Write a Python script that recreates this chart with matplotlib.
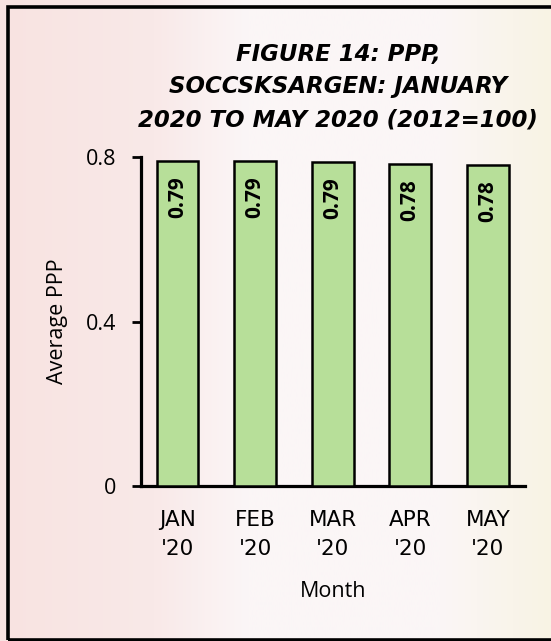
import matplotlib
matplotlib.use("Agg")
import matplotlib.pyplot as plt
import numpy as np
from matplotlib.colors import LinearSegmentedColormap
from matplotlib.patches import Rectangle

months = ["JAN\n'20", "FEB\n'20", "MAR\n'20", "APR\n'20", "MAY\n'20"]
ppp = [0.790, 0.790, 0.789, 0.782, 0.781]
labels = ["0.79", "0.79", "0.79", "0.78", "0.78"]
title = "FIGURE 14: PPP,\nSOCCSKSARGEN: JANUARY\n2020 TO MAY 2020 (2012=100)"

plt.rcParams['font.family'] = ['Open Sans', 'DejaVu Sans']

fig = plt.figure(figsize=(5.51, 6.41), dpi=100)

# soft background wash (pink left, white middle, cream right)
bg = fig.add_axes([0, 0, 1, 1], zorder=-10)
bg_cmap = LinearSegmentedColormap.from_list(
    'bg', [(0, '#f8e3e1'), (0.28, '#f9e9e8'), (0.45, '#fbf6f7'), (0.8, '#fbf6f6'), (1, '#f8f3e4')])
bg.imshow(np.linspace(0, 1, 256)[None, :], aspect='auto', cmap=bg_cmap, extent=[0, 1, 0, 1])
bg.axis('off')

# outer frame
fig.patches.append(Rectangle((8 / 551, 1.5 / 641), 1.2, 633 / 641, transform=fig.transFigure,
                             fill=False, edgecolor='black', linewidth=2.6))

ax = fig.add_axes([141 / 551, 1 - 486 / 641, 384 / 551, 329 / 641])
ax.set_facecolor('none')

x = range(len(months))
bars = ax.bar(x, ppp, width=0.54, color='#b7df99', edgecolor='black', linewidth=1.8, zorder=3)

for b, lab in zip(bars, labels):
    ax.annotate(lab, (b.get_x() + b.get_width() / 2, b.get_height()), xytext=(0, -11),
                textcoords='offset points', rotation=90, ha='center', va='top',
                fontsize=15, fontweight='bold', zorder=4)

ax.set_xlim(-0.47, 4.48)
ax.set_ylim(0, 0.8)
ax.set_yticks([0, 0.4, 0.8])
ax.set_yticklabels(['0', '0.4', '0.8'])
ax.set_xticks(list(x))
ax.set_xticklabels(months, fontsize=15.5, linespacing=1.6, family=['DejaVu Sans'])
ax.tick_params(axis='x', length=0, pad=17)
ax.tick_params(axis='y', length=6.5, width=2, labelsize=15.5, pad=11)

for s in ['top', 'right']:
    ax.spines[s].set_visible(False)
for s in ['left', 'bottom']:
    ax.spines[s].set_linewidth(2.3)

ax.set_ylabel('Average PPP', fontsize=15.5)
ax.yaxis.set_label_coords(-0.19, 0.5)
ax.set_xlabel('Month', fontsize=15.5)
ax.xaxis.set_label_coords(0.5, -0.29)

fig.text(338 / 551, 1 - 87 / 641, title, ha='center', va='center', fontsize=16.5,
         fontweight='bold', fontstyle='italic', linespacing=1.55, family=['DejaVu Sans'])

fig.savefig('out.png', dpi=100)
